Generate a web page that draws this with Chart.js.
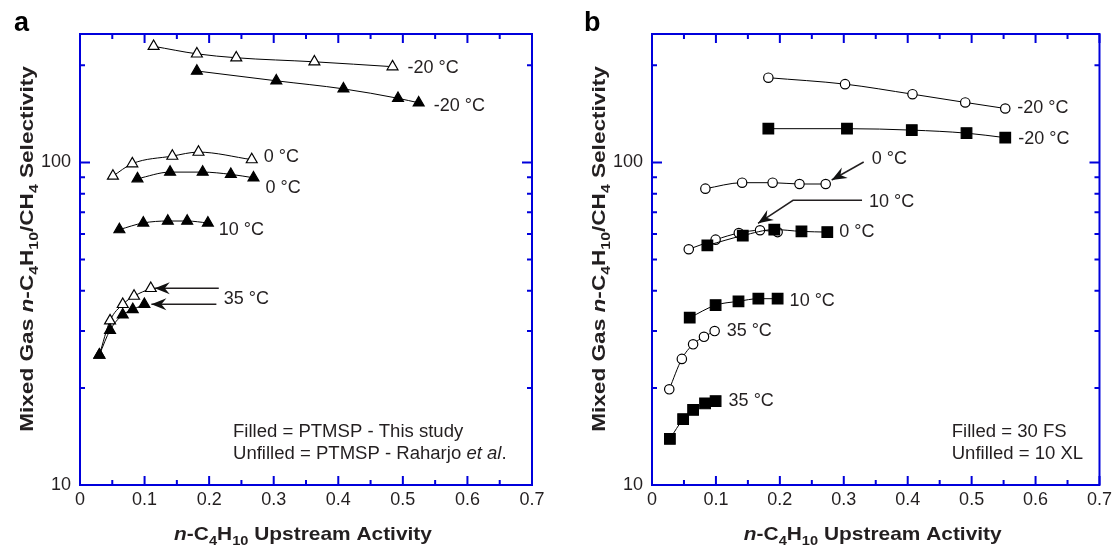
<!DOCTYPE html>
<html>
<head>
<meta charset="utf-8">
<script src="https://cdn.jsdelivr.net/npm/chart.js@4.4.0/dist/chart.umd.min.js"></script>
<style>
html, body { margin: 0; padding: 0; background: #fff; }
#wrap { position: relative; width: 1116px; height: 545px; }
.panel { position: absolute; top: 0; width: 558px; height: 545px; }
</style>
</head>
<body>
<div id="wrap">
  <div class="panel" style="left:0"><canvas id="chartA" width="558" height="545"></canvas></div>
  <div class="panel" style="left:558px"><canvas id="chartB" width="558" height="545"></canvas></div>
</div>
<script>
// ---- data, panel a (triangles) ----
var aOpen20x = [0.114, 0.181, 0.242, 0.363, 0.484];
var aOpen20y = [229, 217, 211, 205, 198];
var aFill20x = [0.181, 0.304, 0.408, 0.4925, 0.5245];
var aFill20y = [192, 179, 169, 158, 153];
var aOpen0x = [0.051, 0.081, 0.143, 0.1835, 0.266];
var aOpen0y = [90.7, 99.1, 104.6, 107.6, 102];
var aFill0x = [0.089, 0.1395, 0.190, 0.2336, 0.2687];
var aFill0y = [89, 93.3, 93.3, 91.8, 89.6];
var aFill10x = [0.061, 0.098, 0.136, 0.166, 0.198];
var aFill10y = [61.9, 64.9, 65.8, 65.8, 64.9];
var aOpen35x = [0.030, 0.0465, 0.0662, 0.0837, 0.1096];
var aOpen35y = [25.3, 32.3, 36.3, 38.5, 40.7];
var aFill35x = [0.030, 0.0465, 0.0662, 0.0817, 0.0997];
var aFill35y = [25.3, 30.2, 33.7, 35.0, 36.3];

// ---- data, panel b (circles / squares) ----
var bOpen20x = [0.182, 0.302, 0.4075, 0.49, 0.5526];
var bOpen20y = [183, 174.8, 162.7, 153.4, 146.9];
var bFill20x = [0.182, 0.305, 0.4064, 0.492, 0.5526];
var bFill20y = [127.2, 127.2, 125.9, 123.2, 119.3];
var bOpen0x = [0.0835, 0.141, 0.1887, 0.2307, 0.2717];
var bOpen0y = [82.9, 86.5, 86.5, 85.7, 85.7];
var bOpen10x = [0.0575, 0.0995, 0.1358, 0.169, 0.1965];
var bOpen10y = [53.8, 57.6, 60.4, 61.6, 60.8];
var bFill0x = [0.0866, 0.142, 0.1913, 0.2338, 0.2742];
var bFill0y = [55.3, 59.3, 61.9, 61.1, 60.8];
var bFill10x = [0.059, 0.0995, 0.1353, 0.1664, 0.1965];
var bFill10y = [33.0, 36.1, 37.1, 37.8, 37.8];
var bOpen35x = [0.027, 0.0467, 0.0643, 0.0813, 0.098];
var bOpen35y = [19.8, 24.6, 27.3, 28.8, 30.0];
var bFill35x = [0.028, 0.0487, 0.0643, 0.083, 0.0995];
var bFill35y = [13.9, 16.0, 17.1, 17.9, 18.2];

// ---- ticks ----
var xMajorTicks = [0, 0.1, 0.2, 0.3, 0.4, 0.5, 0.6, 0.7];
var xTickLabels = ['0', '0.1', '0.2', '0.3', '0.4', '0.5', '0.6', '0.7'];
var xMinorTicks = [0.05, 0.15, 0.25, 0.35, 0.45, 0.55, 0.65];
var yMajorTicks = [10, 100];
var yTickLabels = ['10', '100'];
var yMinorTicks = [20, 30, 40, 50, 60, 70, 80, 90, 200];

var AXIS_BLUE = '#0000dc';
var TXT = '#231f20';
var FONT = '"Liberation Sans", Arial, Helvetica, sans-serif';

var xTitle = [['n', 'i'], ['-C'], ['4', 's'], ['H'], ['10', 's'], [' Upstream Activity']];
var yTitle = [['Mixed Gas '], ['n', 'i'], ['-C'], ['4', 's'], ['H'], ['10', 's'], ['/CH'], ['4', 's'], [' Selectivity']];

function series(xs, ys, style, filled, radius) {
  return {
    data: xs.map(function (x, i) { return { x: x, y: ys[i] }; }),
    showLine: true,
    borderColor: '#000',
    borderWidth: 1,
    cubicInterpolationMode: 'monotone',
    pointStyle: style,
    pointRadius: radius,
    pointBackgroundColor: filled ? '#000' : '#fff',
    pointBorderColor: '#000',
    pointBorderWidth: 1.2,
    fill: false
  };
}

// rich text: parts [text, flags], flags i = italic, s = subscript
function drawRich(ctx, parts, x, y, size, bold, stretch, rotate, align) {
  ctx.save();
  ctx.translate(x, y);
  if (rotate) ctx.rotate(-Math.PI / 2);
  ctx.scale(stretch, 1);
  ctx.textBaseline = 'alphabetic';
  ctx.textAlign = 'left';
  ctx.fillStyle = TXT;
  var fonts = parts.map(function (p) {
    var f = p[1] || '';
    var fs = f.indexOf('s') >= 0 ? size * 0.7 : size;
    return (f.indexOf('i') >= 0 ? 'italic ' : '') + (bold ? 'bold ' : '') + fs + 'px ' + FONT;
  });
  var w = 0;
  parts.forEach(function (p, i) { ctx.font = fonts[i]; w += ctx.measureText(p[0]).width; });
  var cx = align === 'center' ? -w / 2 : 0;
  parts.forEach(function (p, i) {
    ctx.font = fonts[i];
    var dy = (p[1] || '').indexOf('s') >= 0 ? size * 0.28 : 0;
    ctx.fillText(p[0], cx, dy);
    cx += ctx.measureText(p[0]).width;
  });
  ctx.restore();
}

function arrowHead(ctx, tx, ty, fx, fy) {
  var ang = Math.atan2(ty - fy, tx - fx);
  ctx.save();
  ctx.translate(tx, ty);
  ctx.rotate(ang);
  ctx.beginPath();
  ctx.moveTo(0, 0);
  ctx.lineTo(-15, -6);
  ctx.lineTo(-10, 0);
  ctx.lineTo(-15, 6);
  ctx.closePath();
  ctx.fill();
  ctx.restore();
}

function makeDecor(cfg) {
  return {
    id: 'decor',
    afterDraw: function (chart) {
      var ctx = chart.ctx, a = chart.chartArea;
      var xs = chart.scales.x, ys = chart.scales.y;
      ctx.save();
      // frame and inward ticks on all sides
      ctx.strokeStyle = AXIS_BLUE;
      ctx.lineWidth = 2;
      ctx.strokeRect(a.left, a.top, a.right - a.left, a.bottom - a.top);
      ctx.beginPath();
      function xt(v, len) {
        var p = xs.getPixelForValue(v);
        ctx.moveTo(p, a.bottom); ctx.lineTo(p, a.bottom - len);
        ctx.moveTo(p, a.top); ctx.lineTo(p, a.top + len);
      }
      function yt(v, len) {
        var p = ys.getPixelForValue(v);
        ctx.moveTo(a.left, p); ctx.lineTo(a.left + len, p);
        ctx.moveTo(a.right, p); ctx.lineTo(a.right - len, p);
      }
      xMajorTicks.forEach(function (v) { xt(v, 9); });
      xMinorTicks.forEach(function (v) { xt(v, 5); });
      yMajorTicks.forEach(function (v) { yt(v, 10); });
      yMinorTicks.forEach(function (v) { yt(v, 5); });
      ctx.stroke();

      // titles
      drawRich(ctx, xTitle, (a.left + a.right) / 2 - 3, 540, 19, true, 1.1, false, 'center');
      drawRich(ctx, yTitle, cfg.yTitleX, 249, 19, true, 1.19, true, 'center');
      ctx.fillStyle = '#000';
      ctx.font = 'bold 27px ' + FONT;
      ctx.textBaseline = 'alphabetic';
      ctx.textAlign = 'left';
      ctx.fillText(cfg.letter, cfg.letterX, 31);

      // temperature labels, anchored on a data point
      ctx.fillStyle = TXT;
      ctx.strokeStyle = TXT;
      ctx.font = '18px ' + FONT;
      ctx.textBaseline = 'middle';
      cfg.labels.forEach(function (l) {
        var pt = chart.getDatasetMeta(l.ds).data[l.pt];
        ctx.fillText(l.text, pt.x + l.dx, pt.y + l.dy);
      });
      // arrows: tip near a data point, path relative to tip
      ctx.lineWidth = 1.5;
      ctx.fillStyle = '#111';
      cfg.arrows.forEach(function (r) {
        var pt = chart.getDatasetMeta(r.ds).data[r.pt];
        var tx = pt.x + r.tip[0], ty = pt.y + r.tip[1];
        ctx.beginPath();
        ctx.moveTo(tx, ty);
        r.path.forEach(function (q) { ctx.lineTo(tx + q[0], ty + q[1]); });
        ctx.stroke();
        arrowHead(ctx, tx, ty, tx + r.path[0][0], ty + r.path[0][1]);
      });
      // notes
      ctx.fillStyle = TXT;
      cfg.notes.forEach(function (n, i) {
        drawRich(ctx, n, cfg.noteX, 437 + i * 22, 18, false, 1.03, false, 'left');
      });
      ctx.restore();
    }
  };
}

function makeOptions(yWidth, padRight) {
  return {
    responsive: false,
    animation: false,
    layout: { padding: { left: 0, right: padRight, top: 34, bottom: 0 } },
    plugins: { legend: { display: false }, tooltip: { enabled: false } },
    scales: {
      x: {
        type: 'linear', min: 0, max: 0.7,
        grid: { display: false, drawTicks: false },
        border: { display: false },
        afterBuildTicks: function (s) { s.ticks = xMajorTicks.map(function (v) { return { value: v }; }); },
        afterFit: function (s) { s.height = 60; },
        ticks: {
          autoSkip: false, maxRotation: 0, padding: 4, color: TXT,
          font: { family: FONT, size: 18 },
          callback: function (v) { var i = xMajorTicks.indexOf(v); return i >= 0 ? xTickLabels[i] : ''; }
        }
      },
      y: {
        type: 'logarithmic', min: 10, max: 250,
        grid: { display: false, drawTicks: false },
        border: { display: false },
        afterBuildTicks: function (s) { s.ticks = yMajorTicks.map(function (v) { return { value: v }; }); },
        afterFit: function (s) { s.width = yWidth; },
        ticks: {
          autoSkip: false, padding: 9, color: TXT,
          font: { family: FONT, size: 18 },
          callback: function (v) { var i = yMajorTicks.indexOf(v); return i >= 0 ? yTickLabels[i] : ''; }
        }
      }
    }
  };
}

// panel a: filled first so they sit on top of the open ones
var dsA = [
  series(aFill20x, aFill20y, 'triangle', true, 6.3),
  series(aFill0x, aFill0y, 'triangle', true, 6.3),
  series(aFill10x, aFill10y, 'triangle', true, 6.3),
  series(aFill35x, aFill35y, 'triangle', true, 6.3),
  series(aOpen20x, aOpen20y, 'triangle', false, 6.3),
  series(aOpen0x, aOpen0y, 'triangle', false, 6.3),
  series(aOpen35x, aOpen35y, 'triangle', false, 6.3)
];
var cfgA = {
  letter: 'a', letterX: 14, yTitleX: 33, noteX: 233,
  labels: [
    { ds: 4, pt: 4, text: '-20 \u00b0C', dx: 15, dy: 1 },
    { ds: 0, pt: 4, text: '-20 \u00b0C', dx: 15, dy: 3 },
    { ds: 5, pt: 4, text: '0 \u00b0C', dx: 12, dy: -3 },
    { ds: 1, pt: 4, text: '0 \u00b0C', dx: 12, dy: 10 },
    { ds: 2, pt: 4, text: '10 \u00b0C', dx: 11, dy: 7 },
    { ds: 6, pt: 4, text: '35 \u00b0C', dx: 73, dy: 11 }
  ],
  arrows: [
    { ds: 6, pt: 4, tip: [4, 0], path: [[64, 0]] },
    { ds: 3, pt: 4, tip: [7, 0], path: [[65, 0]] }
  ],
  notes: [
    [['Filled = PTMSP - This study']],
    [['Unfilled = PTMSP - Raharjo '], ['et al', 'i'], ['.']]
  ]
};

var dsB = [
  series(bFill20x, bFill20y, 'rect', true, 7.5),
  series(bFill0x, bFill0y, 'rect', true, 7.5),
  series(bFill10x, bFill10y, 'rect', true, 7.5),
  series(bFill35x, bFill35y, 'rect', true, 7.5),
  series(bOpen20x, bOpen20y, 'circle', false, 4.7),
  series(bOpen0x, bOpen0y, 'circle', false, 4.7),
  series(bOpen10x, bOpen10y, 'circle', false, 4.7),
  series(bOpen35x, bOpen35y, 'circle', false, 4.7)
];
var cfgB = {
  letter: 'b', letterX: 26, yTitleX: 47, noteX: 393.7,
  labels: [
    { ds: 4, pt: 4, text: '-20 \u00b0C', dx: 12, dy: 0 },
    { ds: 0, pt: 4, text: '-20 \u00b0C', dx: 13, dy: 1 },
    { ds: 5, pt: 4, text: '0 \u00b0C', dx: 46, dy: -25 },
    { ds: 6, pt: 3, text: '10 \u00b0C', dx: 109, dy: -28 },
    { ds: 1, pt: 4, text: '0 \u00b0C', dx: 12, dy: 0 },
    { ds: 2, pt: 4, text: '10 \u00b0C', dx: 12, dy: 2 },
    { ds: 7, pt: 4, text: '35 \u00b0C', dx: 12, dy: 0 },
    { ds: 3, pt: 4, text: '35 \u00b0C', dx: 13, dy: 0 }
  ],
  arrows: [
    { ds: 5, pt: 4, tip: [6, -4], path: [[32, -18]] },
    { ds: 6, pt: 3, tip: [-2, -7], path: [[35, -23], [104, -23]] }
  ],
  notes: [
    [['Filled = 30 FS']],
    [['Unfilled = 10 XL']]
  ]
};

new Chart(document.getElementById('chartA'), {
  type: 'scatter',
  data: { datasets: dsA },
  options: makeOptions(80, 26),
  plugins: [makeDecor(cfgA)]
});
new Chart(document.getElementById('chartB'), {
  type: 'scatter',
  data: { datasets: dsB },
  options: makeOptions(94, 12),
  plugins: [makeDecor(cfgB)]
});
</script>
</body>
</html>
